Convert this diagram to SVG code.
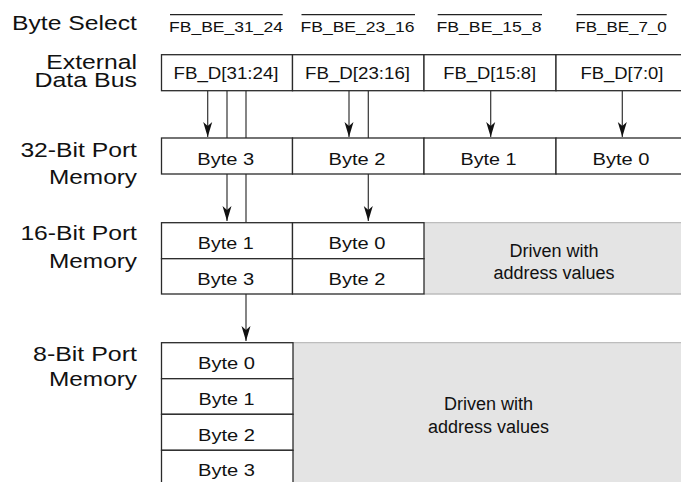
<svg xmlns="http://www.w3.org/2000/svg" width="681" height="482" viewBox="0 0 681 482">
<style>
text{font-family:"Liberation Sans",Arial,Helvetica,sans-serif;fill:#111}
.lbl{font-size:20.5px;text-anchor:end}
.sel{font-size:15px}
.bus{font-size:17px;text-anchor:middle}
.byte{font-size:16.5px;text-anchor:middle}
.drv{font-size:18px;text-anchor:middle}
.cell{fill:#fff;stroke:#2a2a2a;stroke-width:1.3}
.gray{fill:#e4e4e4;stroke:none}
.gedge{stroke:#bdbdbd;stroke-width:1.3}
.ol{stroke:#222;stroke-width:1.2}
.wire{stroke:#333;stroke-width:1.2;fill:none}
</style>
<defs>
<marker id="arr" markerUnits="userSpaceOnUse" markerWidth="18" markerHeight="12" viewBox="-16 -6 18 12" refX="0" refY="0" orient="auto">
<path d="M0,0 L-15,-4.5 L-11,0 L-15,4.5 Z" fill="#111"/>
</marker>
</defs>

<g id="labels">
<text class="lbl" x="137" y="30" textLength="125" lengthAdjust="spacingAndGlyphs">Byte Select</text>
<text class="lbl" x="137" y="69.3" textLength="90.7" lengthAdjust="spacingAndGlyphs">External</text>
<text class="lbl" x="137" y="87.3" textLength="102.6" lengthAdjust="spacingAndGlyphs">Data Bus</text>
<text class="lbl" x="137" y="156.7" textLength="116.6" lengthAdjust="spacingAndGlyphs">32-Bit Port</text>
<text class="lbl" x="137" y="184" textLength="88" lengthAdjust="spacingAndGlyphs">Memory</text>
<text class="lbl" x="137" y="240" textLength="116.6" lengthAdjust="spacingAndGlyphs">16-Bit Port</text>
<text class="lbl" x="137" y="267.5" textLength="88" lengthAdjust="spacingAndGlyphs">Memory</text>
<text class="lbl" x="137" y="360.7" textLength="104" lengthAdjust="spacingAndGlyphs">8-Bit Port</text>
<text class="lbl" x="137" y="386" textLength="88" lengthAdjust="spacingAndGlyphs">Memory</text>
</g>

<g id="byte-select">
<line class="ol" x1="170" y1="14.7" x2="282.7" y2="14.7"/>
<text class="sel" x="169" y="32.3" textLength="114" lengthAdjust="spacingAndGlyphs">FB_BE_31_24</text>
<line class="ol" x1="301.5" y1="14.7" x2="415" y2="14.7"/>
<text class="sel" x="300.5" y="32.3" textLength="114" lengthAdjust="spacingAndGlyphs">FB_BE_23_16</text>
<line class="ol" x1="437.7" y1="14.7" x2="542" y2="14.7"/>
<text class="sel" x="436.5" y="32.3" textLength="105" lengthAdjust="spacingAndGlyphs">FB_BE_15_8</text>
<line class="ol" x1="576.7" y1="14.7" x2="666.7" y2="14.7"/>
<text class="sel" x="575.3" y="32.3" textLength="91.5" lengthAdjust="spacingAndGlyphs">FB_BE_7_0</text>
</g>

<g id="connectors">
<line class="wire" x1="207.7" y1="91" x2="207.7" y2="137" marker-end="url(#arr)"/>
<line class="wire" x1="227" y1="91" x2="227" y2="138"/>
<line class="wire" x1="227" y1="174" x2="227" y2="221" marker-end="url(#arr)"/>
<line class="wire" x1="246" y1="91" x2="246" y2="138"/>
<line class="wire" x1="246" y1="174" x2="246" y2="223"/>
<line class="wire" x1="246" y1="294" x2="246" y2="341" marker-end="url(#arr)"/>
<line class="wire" x1="349" y1="91" x2="349" y2="137" marker-end="url(#arr)"/>
<line class="wire" x1="368.3" y1="91" x2="368.3" y2="138"/>
<line class="wire" x1="368.3" y1="174" x2="368.3" y2="221" marker-end="url(#arr)"/>
<line class="wire" x1="490.7" y1="91" x2="490.7" y2="137" marker-end="url(#arr)"/>
<line class="wire" x1="622.3" y1="91" x2="622.3" y2="137" marker-end="url(#arr)"/>
</g>

<g id="data-bus">
<rect class="cell" x="161.5" y="54.7" width="131" height="36"/>
<rect class="cell" x="292.5" y="54.7" width="131.5" height="36"/>
<rect class="cell" x="424" y="54.7" width="132" height="36"/>
<rect class="cell" x="556" y="54.7" width="134" height="36"/>
<text class="bus" x="226" y="78.5" textLength="105" lengthAdjust="spacingAndGlyphs">FB_D[31:24]</text>
<text class="bus" x="357.5" y="78.5" textLength="105" lengthAdjust="spacingAndGlyphs">FB_D[23:16]</text>
<text class="bus" x="489.7" y="78.5" textLength="93" lengthAdjust="spacingAndGlyphs">FB_D[15:8]</text>
<text class="bus" x="622" y="78.5" textLength="83" lengthAdjust="spacingAndGlyphs">FB_D[7:0]</text>
</g>

<g id="mem32">
<rect class="cell" x="161.5" y="138" width="131" height="36"/>
<rect class="cell" x="292.5" y="138" width="131.5" height="36"/>
<rect class="cell" x="424" y="138" width="132" height="36"/>
<rect class="cell" x="556" y="138" width="134" height="36"/>
<text class="byte" x="225.8" y="164.8" textLength="57" lengthAdjust="spacingAndGlyphs">Byte 3</text>
<text class="byte" x="357" y="164.8" textLength="57" lengthAdjust="spacingAndGlyphs">Byte 2</text>
<text class="byte" x="488.5" y="164.8" textLength="56" lengthAdjust="spacingAndGlyphs">Byte 1</text>
<text class="byte" x="621" y="164.8" textLength="57" lengthAdjust="spacingAndGlyphs">Byte 0</text>
</g>

<g id="mem16">
<rect class="gray" x="424" y="222.7" width="266" height="71.3"/>
<line class="gedge" x1="424" y1="222.7" x2="690" y2="222.7"/>
<line class="gedge" x1="424" y1="294" x2="690" y2="294"/>
<rect class="cell" x="161.5" y="222.7" width="131" height="36"/>
<rect class="cell" x="292.5" y="222.7" width="131.5" height="36"/>
<rect class="cell" x="161.5" y="258.7" width="131" height="35.3"/>
<rect class="cell" x="292.5" y="258.7" width="131.5" height="35.3"/>
<text class="byte" x="225.8" y="249.3" textLength="56" lengthAdjust="spacingAndGlyphs">Byte 1</text>
<text class="byte" x="357" y="249.3" textLength="57" lengthAdjust="spacingAndGlyphs">Byte 0</text>
<text class="byte" x="225.8" y="285" textLength="57" lengthAdjust="spacingAndGlyphs">Byte 3</text>
<text class="byte" x="357" y="285" textLength="57" lengthAdjust="spacingAndGlyphs">Byte 2</text>
<text class="drv" x="554" y="256.7">Driven with</text>
<text class="drv" x="554" y="279">address values</text>
</g>

<g id="mem8">
<rect class="gray" x="293" y="342.7" width="397" height="150"/>
<line class="gedge" x1="293" y1="342.7" x2="690" y2="342.7"/>
<rect class="cell" x="161.5" y="342.7" width="131.5" height="36"/>
<rect class="cell" x="161.5" y="378.7" width="131.5" height="35.6"/>
<rect class="cell" x="161.5" y="414.3" width="131.5" height="36"/>
<rect class="cell" x="161.5" y="450.3" width="131.5" height="36"/>
<text class="byte" x="226.5" y="369" textLength="57" lengthAdjust="spacingAndGlyphs">Byte 0</text>
<text class="byte" x="226.5" y="404.5" textLength="56" lengthAdjust="spacingAndGlyphs">Byte 1</text>
<text class="byte" x="226.5" y="440.5" textLength="57" lengthAdjust="spacingAndGlyphs">Byte 2</text>
<text class="byte" x="226.5" y="476.3" textLength="57" lengthAdjust="spacingAndGlyphs">Byte 3</text>
<text class="drv" x="488.5" y="410">Driven with</text>
<text class="drv" x="488.5" y="432.7">address values</text>
</g>
</svg>
